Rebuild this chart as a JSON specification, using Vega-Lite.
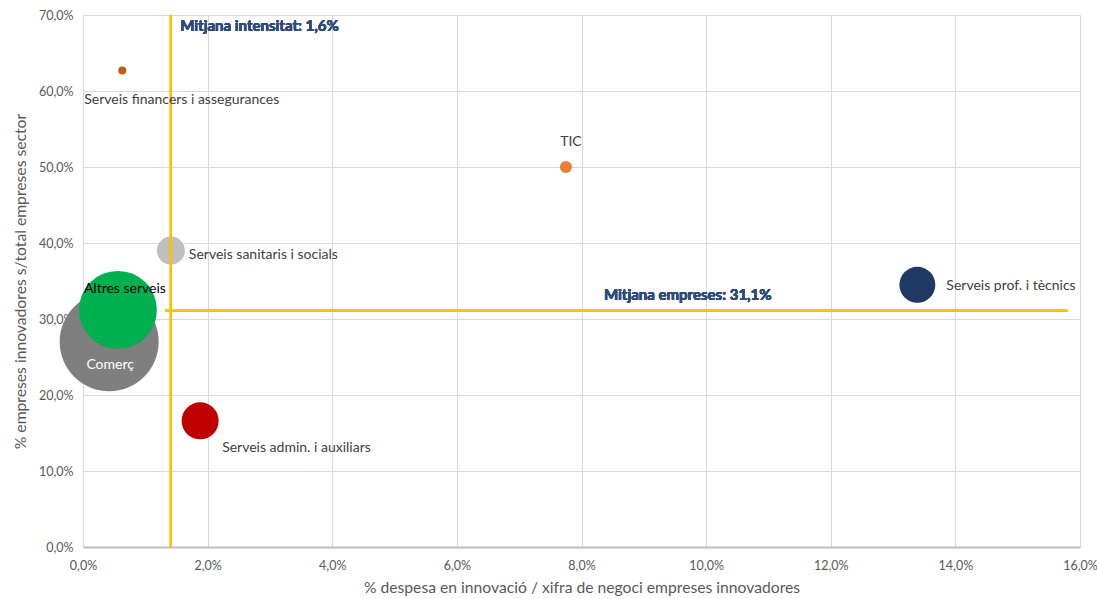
{
  "$schema": "https://vega.github.io/schema/vega-lite/v6.json",
  "width": 997,
  "height": 532,
  "autosize": "none",
  "padding": {"left": 83, "top": 15, "right": 17, "bottom": 52},
  "background": "white",
  "config": {
    "view": {"stroke": null},
    "font": "Lato",
    "axis": {
      "labelFont": "Lato", "titleFont": "Lato", "labelColor": "#595959", "titleColor": "#595959",
      "labelFontSize": 12.5, "titleFontSize": 15.7, "titleFontWeight": "normal",
      "gridColor": "#D9D9D9", "gridWidth": 1, "ticks": false, "labelFlush": false
    }
  },
  "data": {
    "values": [
      {"sector": "Comerç", "intensitat": 0.42, "empreses": 27.0, "pes": 100},
      {"sector": "Altres serveis", "intensitat": 0.56, "empreses": 31.2, "pes": 62},
      {"sector": "Serveis financers i assegurances", "intensitat": 0.63, "empreses": 62.7, "pes": 0.65},
      {"sector": "TIC", "intensitat": 7.75, "empreses": 50.0, "pes": 1.5},
      {"sector": "Serveis sanitaris i socials", "intensitat": 1.41, "empreses": 39.0, "pes": 8},
      {"sector": "Serveis admin. i auxiliars", "intensitat": 1.88, "empreses": 16.6, "pes": 14},
      {"sector": "Serveis prof. i tècnics", "intensitat": 13.39, "empreses": 34.5, "pes": 13.2}
    ]
  },
  "layer": [
    {
      "mark": {"type": "point", "filled": true, "opacity": 1, "shape": "circle"},
      "encoding": {
        "x": {
          "field": "intensitat", "type": "quantitative",
          "scale": {"domain": [0, 16], "nice": false, "zero": true},
          "axis": {
            "values": [0, 2, 4, 6, 8, 10, 12, 14, 16],
            "labelExpr": "replace(format(datum.value, '.1f'), '.', ',') + '%'",
            "title": "% despesa en innovació / xifra de negoci empreses innovadores",
            "domainColor": "#BFBFBF", "domainWidth": 2, "labelPadding": 12, "titlePadding": 9
          }
        },
        "y": {
          "field": "empreses", "type": "quantitative",
          "scale": {"domain": [0, 70], "nice": false},
          "axis": {
            "values": [0, 10, 20, 30, 40, 50, 60, 70],
            "labelExpr": "replace(format(datum.value, '.1f'), '.', ',') + '%'",
            "title": "% empreses innovadores s/total empreses sector",
            "domain": false, "labelPadding": 10, "titlePadding": 10
          }
        },
        "size": {"field": "pes", "type": "quantitative", "scale": {"domain": [0, 100], "range": [0, 9800]}, "legend": null},
        "color": {
          "field": "sector", "type": "nominal", "legend": null,
          "scale": {
            "domain": ["Comerç", "Altres serveis", "Serveis financers i assegurances", "TIC", "Serveis sanitaris i socials", "Serveis admin. i auxiliars", "Serveis prof. i tècnics"],
            "range": ["#7F7F7F", "#00B050", "#C55A11", "#ED7D31", "#BFBFBF", "#C00000", "#1F3864"]
          }
        }
      }
    },
    {
      "mark": {"type": "rule", "color": "#FFC000", "strokeWidth": 2},
      "encoding": {"x": {"datum": 1.41}}
    },
    {
      "mark": {"type": "rule", "color": "#FFC000", "strokeWidth": 2},
      "encoding": {"x": {"datum": 1.32}, "x2": {"datum": 15.8}, "y": {"datum": 31.1}}
    },
    {
      "mark": {"type": "text", "align": "left", "baseline": "middle", "font": "Lato", "fontSize": 15, "fontWeight": "bold", "color": "#2F4B7C", "text": "Mitjana intensitat: 1,6%"},
      "encoding": {"x": {"datum": 1.56}, "y": {"datum": 68.6}}
    },
    {
      "mark": {"type": "text", "align": "left", "baseline": "middle", "font": "Lato", "fontSize": 15, "fontWeight": "bold", "color": "#2F4B7C", "text": "Mitjana empreses: 31,1%"},
      "encoding": {"x": {"datum": 8.36}, "y": {"datum": 33.2}}
    },
    {
      "transform": [{"filter": "datum.sector == 'Serveis financers i assegurances'"}],
      "mark": {"type": "text", "align": "left", "baseline": "middle", "fontSize": 14, "color": "#404040", "dx": -38, "dy": 30},
      "encoding": {"x": {"field": "intensitat", "type": "quantitative"}, "y": {"field": "empreses", "type": "quantitative"}, "text": {"field": "sector"}}
    },
    {
      "transform": [{"filter": "datum.sector == 'TIC'"}],
      "mark": {"type": "text", "align": "center", "baseline": "middle", "fontSize": 14, "color": "#404040", "dx": 5, "dy": -25},
      "encoding": {"x": {"field": "intensitat", "type": "quantitative"}, "y": {"field": "empreses", "type": "quantitative"}, "text": {"field": "sector"}}
    },
    {
      "transform": [{"filter": "datum.sector == 'Serveis sanitaris i socials'"}],
      "mark": {"type": "text", "align": "left", "baseline": "middle", "fontSize": 14, "color": "#404040", "dx": 18, "dy": 4},
      "encoding": {"x": {"field": "intensitat", "type": "quantitative"}, "y": {"field": "empreses", "type": "quantitative"}, "text": {"field": "sector"}}
    },
    {
      "transform": [{"filter": "datum.sector == 'Altres serveis'"}],
      "mark": {"type": "text", "align": "left", "baseline": "middle", "fontSize": 14, "color": "#000000", "dx": -34, "dy": -21},
      "encoding": {"x": {"field": "intensitat", "type": "quantitative"}, "y": {"field": "empreses", "type": "quantitative"}, "text": {"field": "sector"}}
    },
    {
      "transform": [{"filter": "datum.sector == 'Comerç'"}],
      "mark": {"type": "text", "align": "center", "baseline": "middle", "fontSize": 14, "color": "#FFFFFF", "dx": 1, "dy": 23},
      "encoding": {"x": {"field": "intensitat", "type": "quantitative"}, "y": {"field": "empreses", "type": "quantitative"}, "text": {"field": "sector"}}
    },
    {
      "transform": [{"filter": "datum.sector == 'Serveis admin. i auxiliars'"}],
      "mark": {"type": "text", "align": "left", "baseline": "middle", "fontSize": 14, "color": "#404040", "dx": 22, "dy": 27},
      "encoding": {"x": {"field": "intensitat", "type": "quantitative"}, "y": {"field": "empreses", "type": "quantitative"}, "text": {"field": "sector"}}
    },
    {
      "transform": [{"filter": "datum.sector == 'Serveis prof. i tècnics'"}],
      "mark": {"type": "text", "align": "left", "baseline": "middle", "fontSize": 14, "color": "#404040", "dx": 29, "dy": 1},
      "encoding": {"x": {"field": "intensitat", "type": "quantitative"}, "y": {"field": "empreses", "type": "quantitative"}, "text": {"field": "sector"}}
    }
  ]
}
